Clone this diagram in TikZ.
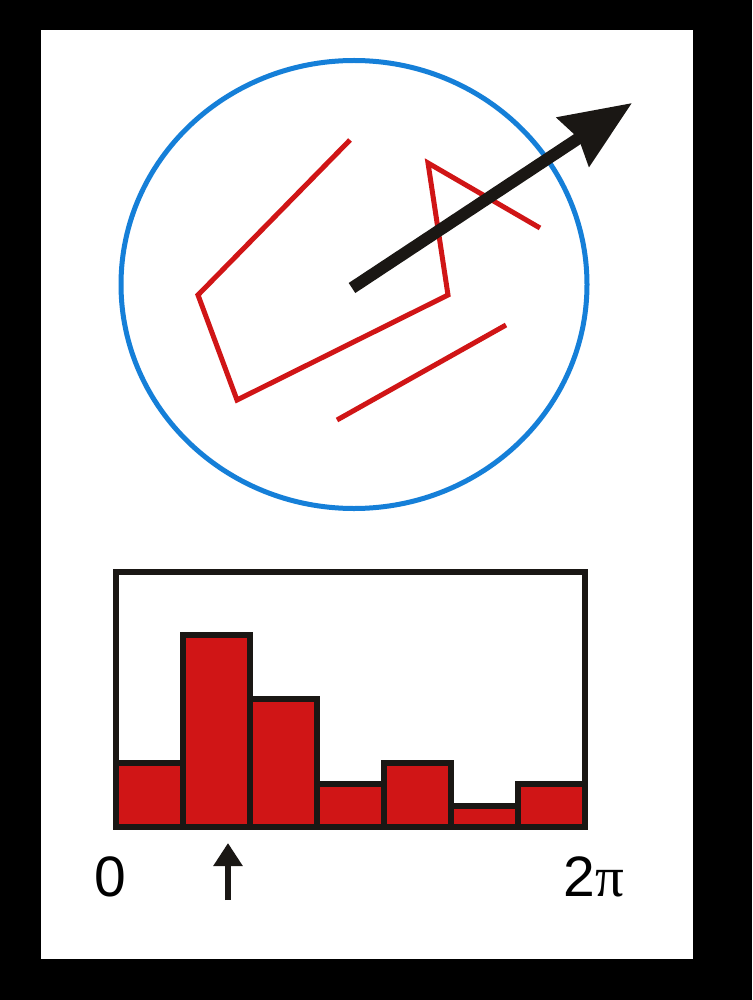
\documentclass[tikz,border=0pt]{standalone}
\usepackage{fontspec}
\setmainfont{Liberation Sans}
\newfontfamily\pifont{Liberation Serif}
\usetikzlibrary{arrows.meta}

\definecolor{ringblue}{RGB}{21,127,216}
\definecolor{barred}{RGB}{208,21,22}
\definecolor{inkblack}{RGB}{26,23,20}

\begin{document}
\begin{tikzpicture}[
    x=1pt, y=-1pt,
    ring/.style={draw=ringblue, line width=5pt},
    trace/.style={draw=barred, line width=5pt, line join=miter},
    frame/.style={draw=inkblack, line width=6pt},
    bar/.style={draw=inkblack, fill=barred, line width=6pt},
    axislabel/.style={font=\fontsize{57}{60}\selectfont, inner sep=0pt, anchor=base},
    heading/.style={-{Stealth[length=70pt, width=57pt, inset=6pt]}, draw=inkblack, line width=12pt},
    marker/.style={-{Triangle[length=23pt, width=28pt]}, draw=inkblack, line width=6pt}
]
    % page
    \fill[black] (0,0) rectangle (752,1000);
    \fill[white] (40.5,30.5) rectangle (693,959);

    % neighbourhood with gradient traces
    \draw[ring] (354,284.5) ellipse [x radius=233, y radius=224];
    \draw[trace] (350,140) -- (198,295) -- (237,400) -- (448,295) -- (428,163) -- (540,228);
    \draw[trace] (506,325) -- (337,420);

    \coordinate (origin) at (352,288);
    \coordinate (dir) at (632,103);
    \draw[heading] (origin) -- (dir);

    % orientation histogram
    \draw[frame] (116,572) rectangle (585,827);
    \foreach \h [count=\i from 0] in {3,9,6,2,3,1,2}
        \draw[bar] (116+67*\i,827) rectangle ++(67,-21.3*\h);

    \node[axislabel] (zero) at (110,896) {0};
    \node[axislabel] (twopi) at (594,896) {2{\pifont π}};

    \coordinate (peakbase) at (228,900);
    \coordinate (peak) at (228,843);
    \draw[marker] (peakbase) -- (peak);
\end{tikzpicture}
\end{document}
